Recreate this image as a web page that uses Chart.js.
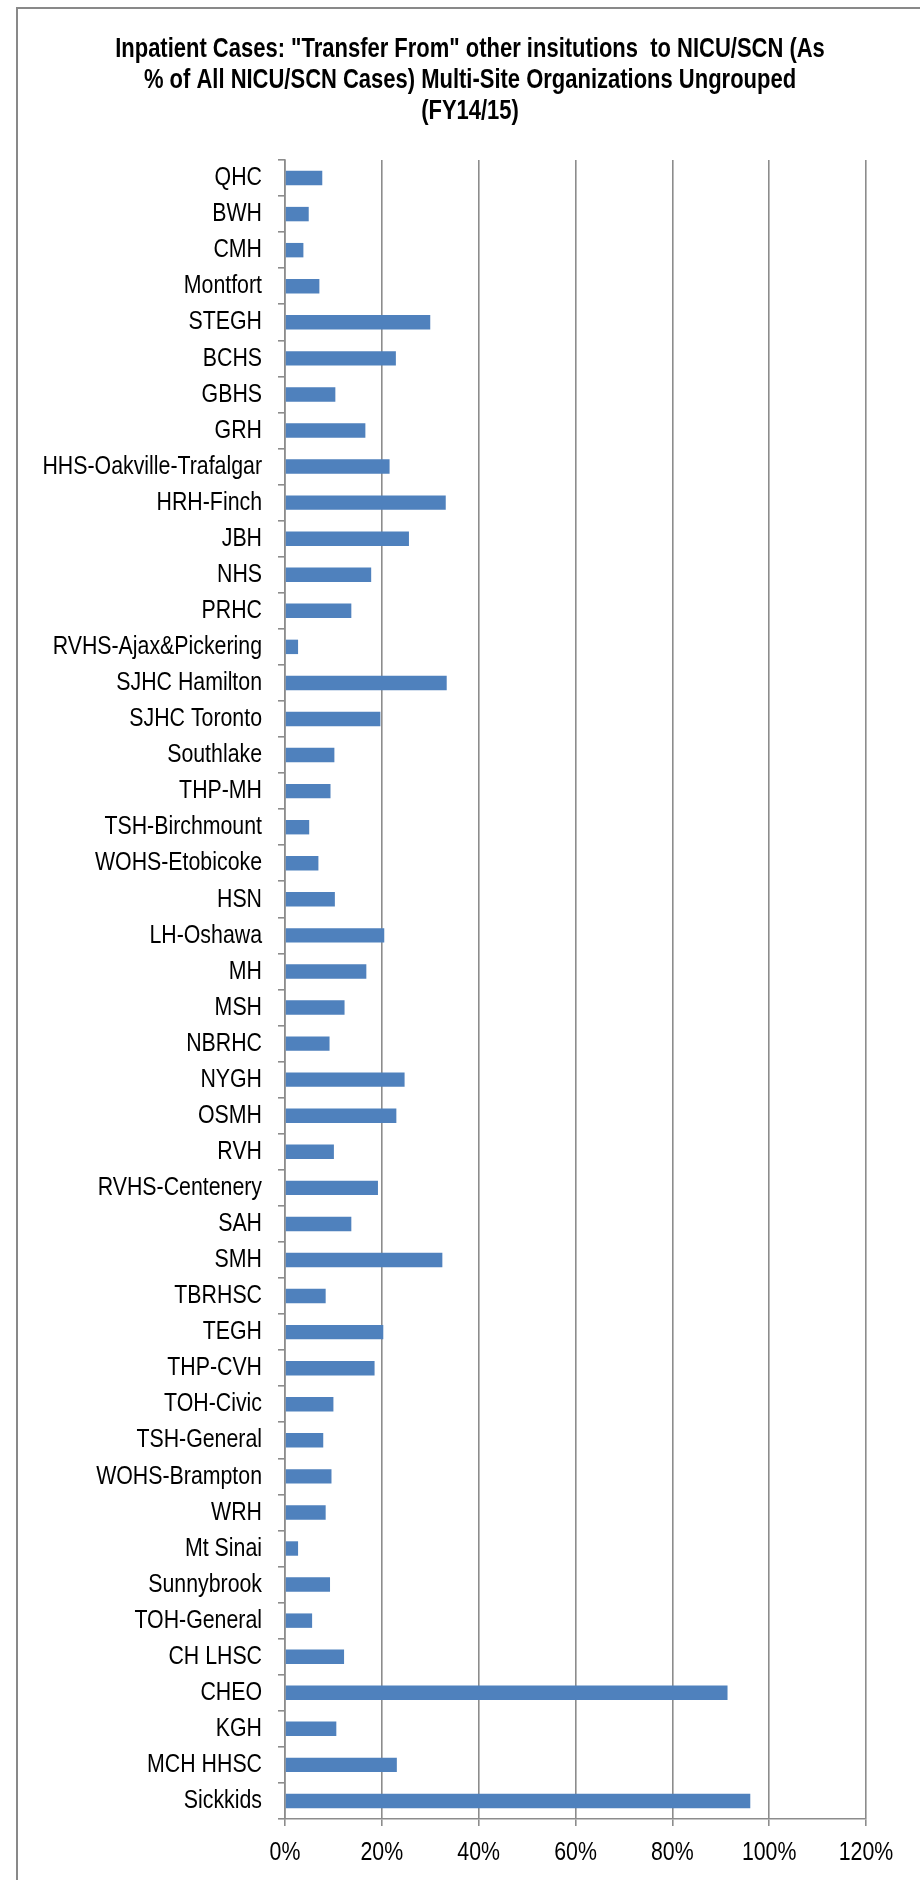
<!DOCTYPE html>
<html>
<head>
<meta charset="utf-8">
<script src="https://cdn.jsdelivr.net/npm/chart.js@4.4.1/dist/chart.umd.min.js"></script>
<style>
  html, body { margin: 0; padding: 0; background: #ffffff; }
  #wrap { position: relative; width: 920px; height: 1880px; overflow: hidden; }
  #frame { position: absolute; left: 16px; top: 7px; width: 960px; height: 1940px;
           border-left: 2px solid #898989; border-top: 2px solid #898989; }
  canvas { position: absolute; left: 0; top: 0; }
</style>
</head>
<body>
<div id="wrap">
  <div id="frame"></div>
  <canvas id="c" width="920" height="1880"></canvas>
</div>
<script>
const titleLines = [
  'Inpatient Cases: "Transfer From" other insitutions  to NICU/SCN (As',
  '% of All NICU/SCN Cases) Multi-Site Organizations Ungrouped',
  '(FY14/15)'
];
const categories = [
  'QHC','BWH','CMH','Montfort','STEGH','BCHS','GBHS','GRH','HHS-Oakville-Trafalgar',
  'HRH-Finch','JBH','NHS','PRHC','RVHS-Ajax&Pickering','SJHC Hamilton','SJHC Toronto',
  'Southlake','THP-MH','TSH-Birchmount','WOHS-Etobicoke','HSN','LH-Oshawa','MH','MSH',
  'NBRHC','NYGH','OSMH','RVH','RVHS-Centenery','SAH','SMH','TBRHSC','TEGH','THP-CVH',
  'TOH-Civic','TSH-General','WOHS-Brampton','WRH','Mt Sinai','Sunnybrook','TOH-General',
  'CH LHSC','CHEO','KGH','MCH HHSC','Sickkids'
];
const transferPct = [
  7.7, 4.9, 3.8, 7.1, 30.0, 22.9, 10.4, 16.6, 21.6,
  33.2, 25.6, 17.8, 13.7, 2.7, 33.4, 19.7,
  10.2, 9.4, 5.0, 6.9, 10.3, 20.5, 16.8, 12.3,
  9.2, 24.7, 23.0, 10.1, 19.2, 13.7, 32.5, 8.4, 20.3, 18.5,
  10.0, 7.9, 9.6, 8.4, 2.7, 9.3, 5.6,
  12.2, 91.4, 10.6, 23.1, 96.1
];
const xTicks = [0, 20, 40, 60, 80, 100, 120];

const FONT = "'Liberation Sans', Arial, sans-serif";
const GRID = '#8c8c8c';
const NARROW = 0.82;
const NARROW_BOLD = 0.785;
Chart.defaults.font.family = FONT;
Chart.defaults.color = '#000000';

// Emulate a narrow (condensed) typeface: draw all chart text horizontally compressed.
const canvas = document.getElementById('c');
const ctx = canvas.getContext('2d');
const origFillText = ctx.fillText;
ctx.fillText = function (text, x, y, maxWidth) {
  const k = /bold/.test(this.font) ? NARROW_BOLD : NARROW;
  this.save();
  this.translate(x, y);
  this.scale(k, 1);
  if (maxWidth !== undefined) origFillText.call(this, text, 0, 0, maxWidth / k);
  else origFillText.call(this, text, 0, 0);
  this.restore();
};

new Chart(ctx, {
  type: 'bar',
  data: {
    labels: categories,
    datasets: [{
      data: transferPct,
      backgroundColor: '#4F81BD',
      borderWidth: 0,
      barPercentage: 0.8,
      categoryPercentage: 0.5,
      xAxisID: 'x',
      yAxisID: 'y'
    }]
  },
  options: {
    indexAxis: 'y',
    responsive: false,
    animation: false,
    events: [],
    layout: { padding: { left: 20, right: 0, top: 0, bottom: 0 } },
    plugins: {
      legend: { display: false },
      tooltip: { enabled: false },
      title: {
        display: true,
        text: titleLines,
        color: '#000000',
        font: { family: FONT, size: 28, weight: 'bold', lineHeight: 1.107 },
        padding: { top: 34, bottom: 33 }
      }
    },
    scales: {
      x: {
        min: 0, max: 120,
        afterBuildTicks: (s) => { s.ticks = xTicks.map(v => ({ value: v })); },
        afterFit: (s) => { s.height = 61; },
        ticks: {
          font: { size: 26 },
          color: '#000000',
          padding: 11,
          callback: (v) => v + '%'
        },
        grid: { color: GRID, lineWidth: 1.6, tickLength: 7, drawTicks: true },
        border: { display: true, color: GRID, width: 1.6 }
      },
      y: {
        afterFit: (s) => { s.width = 265; },
        ticks: { font: { size: 26 }, color: '#000000', autoSkip: false, padding: 16 },
        grid: { drawOnChartArea: false, drawTicks: true, tickLength: 7, color: GRID, lineWidth: 1.6, offset: true },
        border: { display: true, color: GRID, width: 1.6 }
      },
      rightSpace: {
        type: 'linear',
        position: 'right',
        display: true,
        afterFit: (s) => { s.width = 54; },
        ticks: { display: false },
        grid: { display: false, drawTicks: false },
        border: { display: false }
      }
    }
  }
});
</script>
</body>
</html>
